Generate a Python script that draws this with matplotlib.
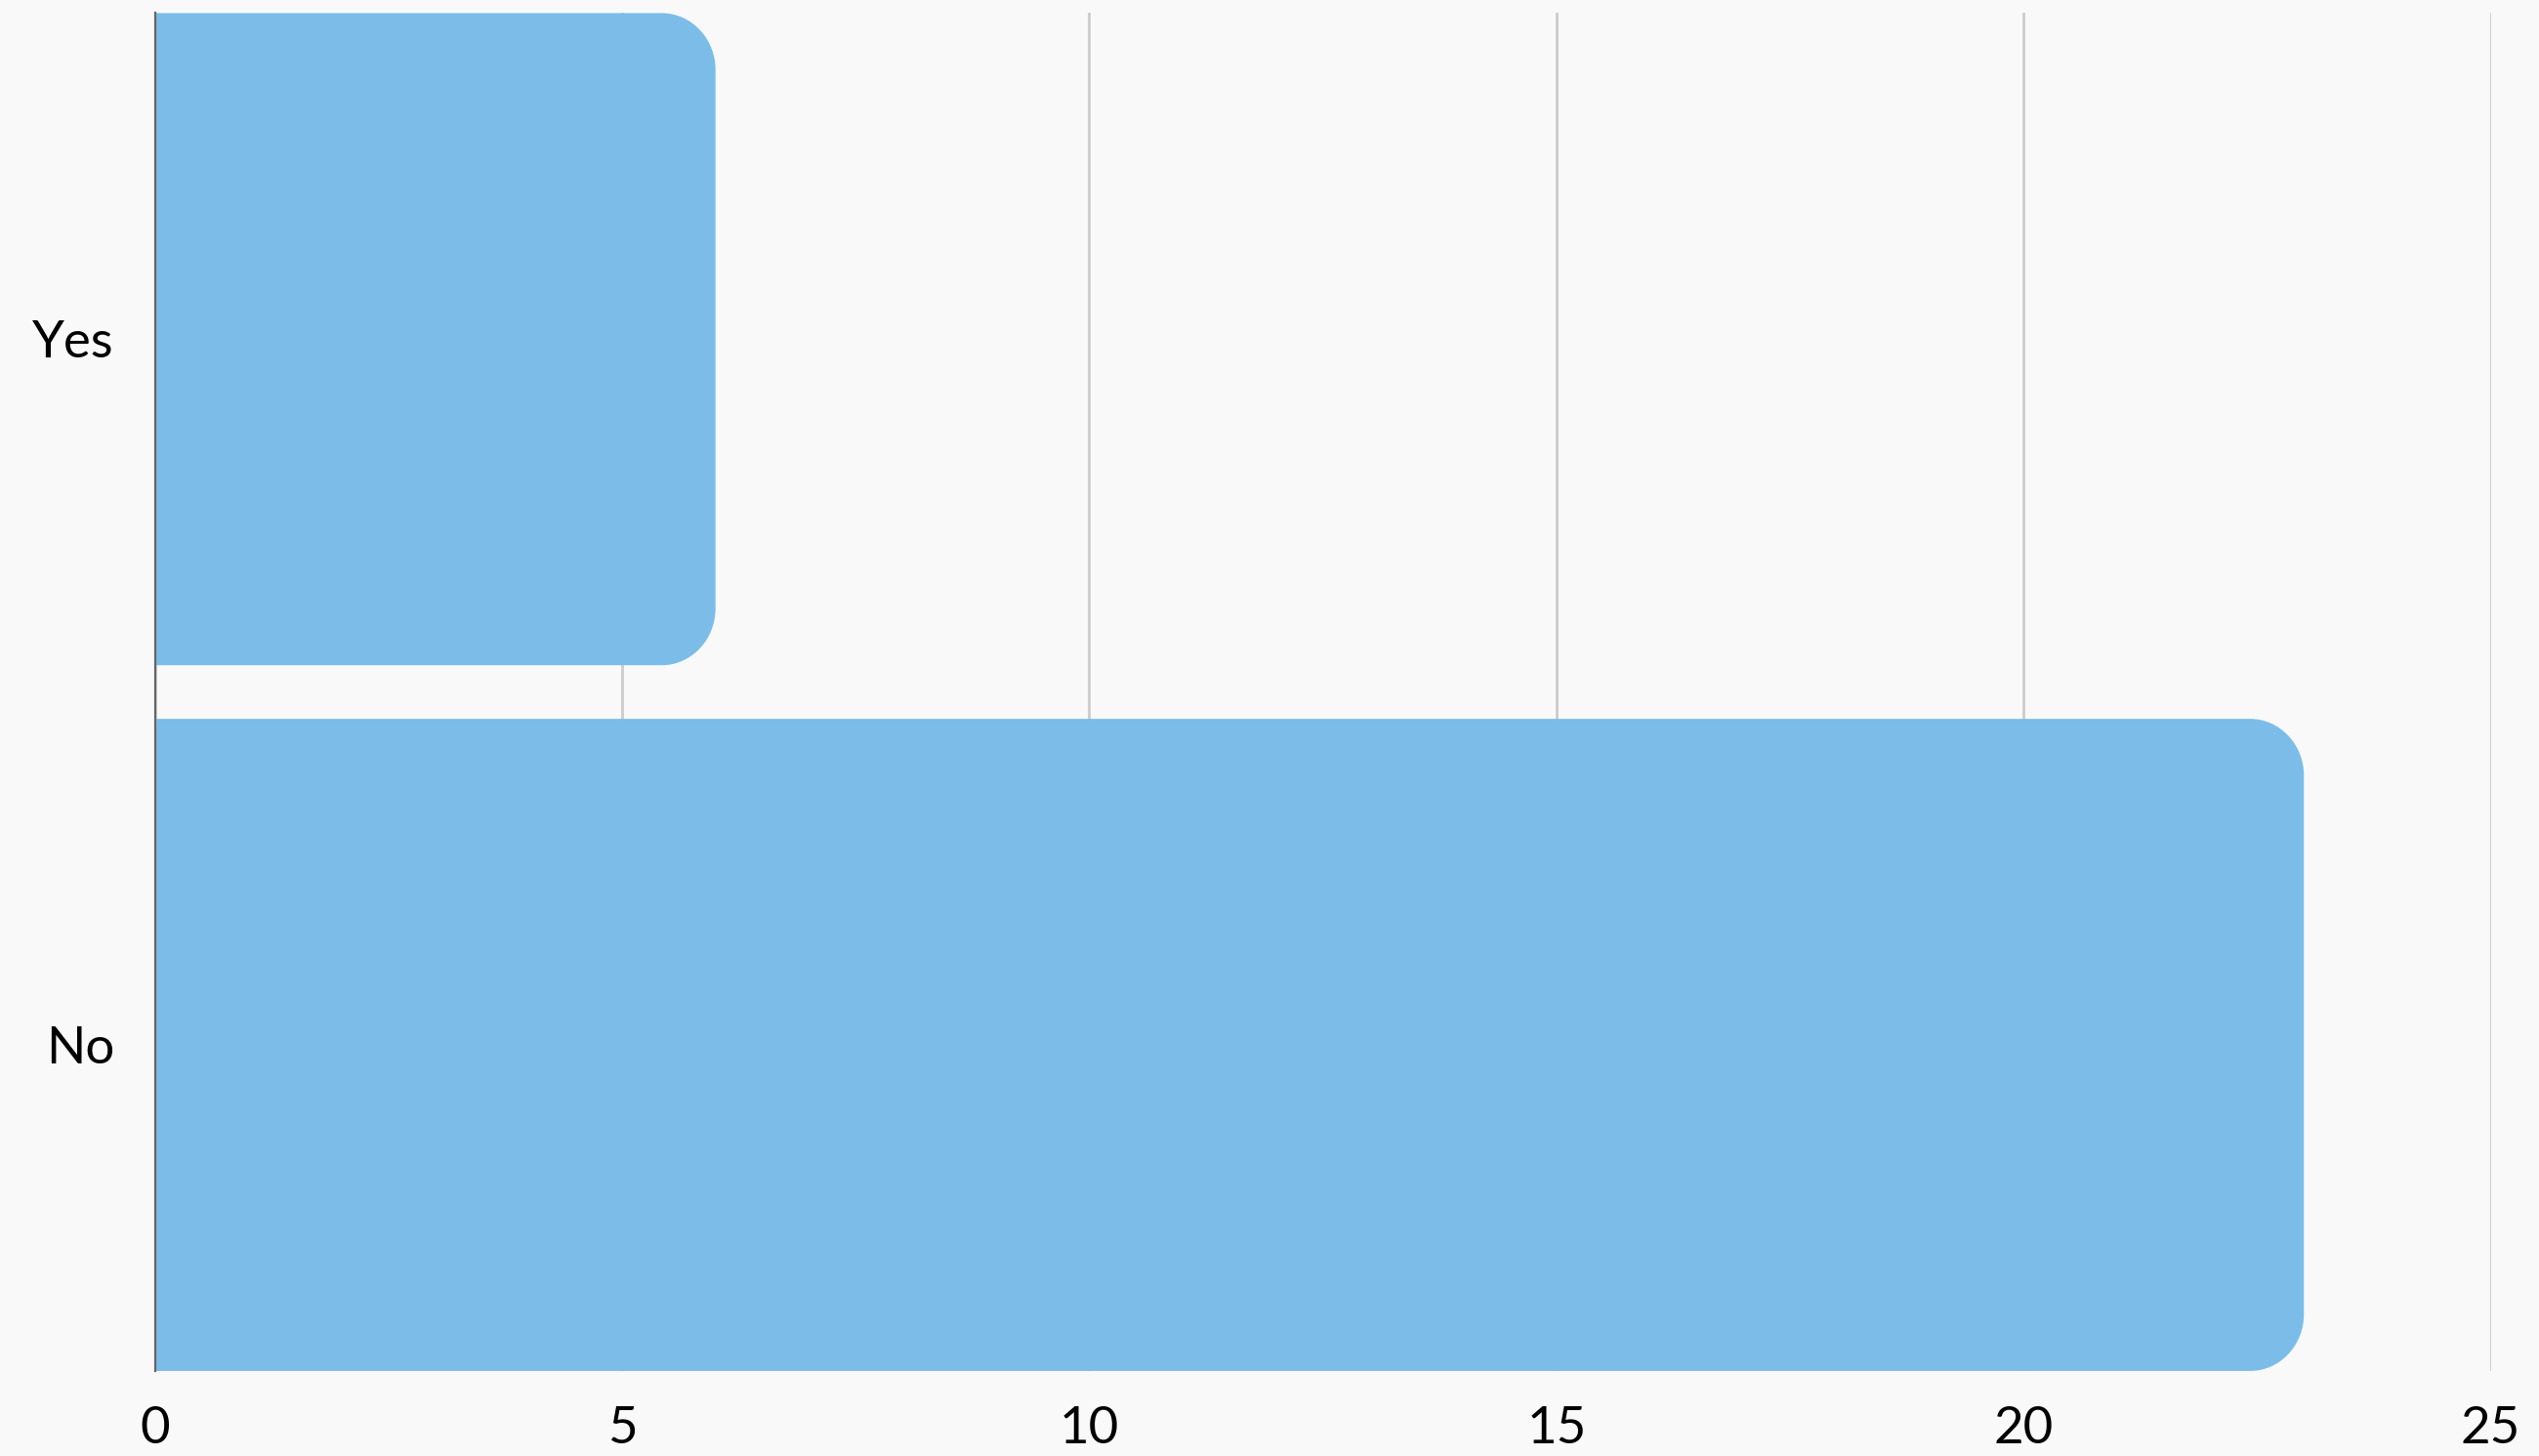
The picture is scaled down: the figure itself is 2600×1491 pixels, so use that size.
import matplotlib.pyplot as plt
from matplotlib.path import Path
from matplotlib.patches import PathPatch

# --- data ---
categories = ["No", "Yes"]
counts = [23, 6]
x_ticks = [0, 5, 10, 15, 20, 25]

bar_color = "#7bbde8"
bg = "#f9f9f9"
bar_h = 0.924

plt.rcParams['font.family'] = ['Lato', 'DejaVu Sans']

fig = plt.figure(figsize=(13, 7.455), dpi=200, facecolor=bg)
ax = fig.add_axes([0.061, 0.0584, 0.92, 0.9326], facecolor=bg)

ax.set_xlim(0, 25)
ax.set_ylim(-bar_h / 2, 1 + bar_h / 2)
fig.canvas.draw()

# corner radius in px, converted to data units on each axis
px_x = ax.transData.transform((1, 0))[0] - ax.transData.transform((0, 0))[0]
px_y = ax.transData.transform((0, 1))[1] - ax.transData.transform((0, 0))[1]
rx = 55 / px_x
ry = 58 / px_y


def rounded_bar(y, w):
    y0, y1 = y - bar_h / 2, y + bar_h / 2
    k = 0.55
    verts = [
        (0, y0), (w - rx, y0),
        (w - rx + k * rx, y0), (w, y0 + ry - k * ry), (w, y0 + ry),
        (w, y1 - ry),
        (w, y1 - ry + k * ry), (w - rx + k * rx, y1), (w - rx, y1),
        (0, y1), (0, y0),
    ]
    codes = [Path.MOVETO, Path.LINETO,
             Path.CURVE4, Path.CURVE4, Path.CURVE4,
             Path.LINETO,
             Path.CURVE4, Path.CURVE4, Path.CURVE4,
             Path.LINETO, Path.CLOSEPOLY]
    return PathPatch(Path(verts, codes), facecolor=bar_color, edgecolor='none', zorder=2)


for i, v in enumerate(counts):
    ax.add_patch(rounded_bar(i, v))

ax.set_yticks(range(len(categories)))
ax.set_yticklabels(categories)
ax.set_xticks(x_ticks)
ax.set_xticklabels([str(t) for t in x_ticks])
ax.tick_params(axis='both', length=0, labelsize=19, colors='black')
ax.tick_params(axis='y', pad=15)
ax.tick_params(axis='x', pad=13)

ax.grid(axis='x', color='#cccccc', linewidth=1.0, zorder=0)
ax.set_axisbelow(True)
for s in ['top', 'right', 'bottom']:
    ax.spines[s].set_visible(False)
ax.spines['left'].set_color('#666666')
ax.spines['left'].set_linewidth(0.8)
ax.spines['left'].set_zorder(3)

fig.savefig("out.png", dpi=200, facecolor=bg)
